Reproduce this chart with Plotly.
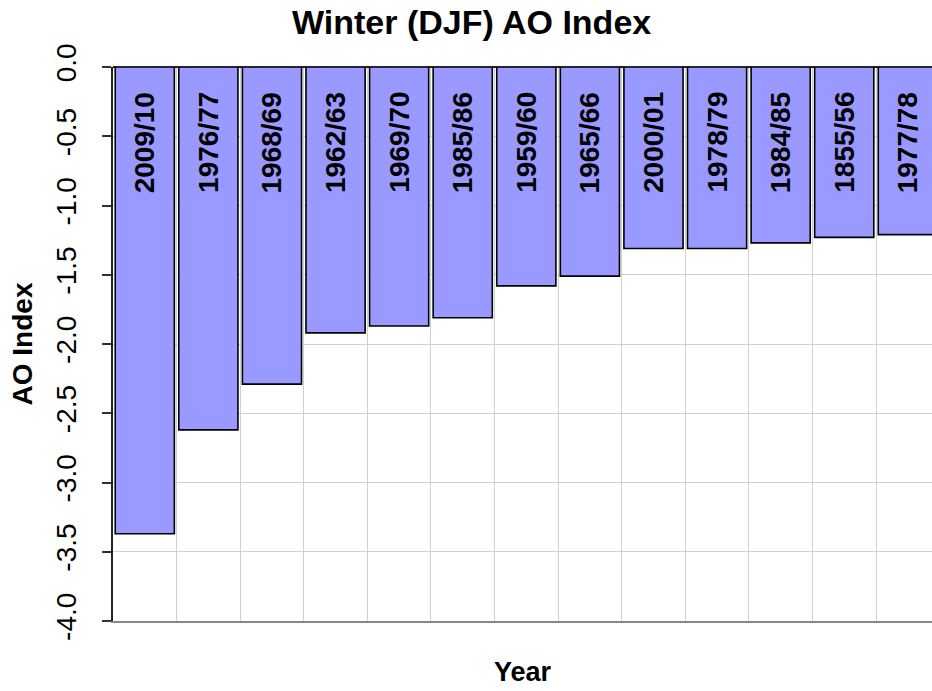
import plotly.graph_objects as go

winters = ["2009/10", "1976/77", "1968/69", "1962/63", "1969/70", "1985/86", "1959/60",
           "1965/66", "2000/01", "1978/79", "1984/85", "1855/56", "1977/78"]
ao_index = [-3.37, -2.62, -2.29, -1.92, -1.87, -1.81, -1.58,
            -1.51, -1.31, -1.31, -1.27, -1.23, -1.21]
y_ticks = [0.0, -0.5, -1.0, -1.5, -2.0, -2.5, -3.0, -3.5, -4.0]

FONT = "Liberation Sans, Arial, sans-serif"

fig = go.Figure()
fig.add_trace(go.Bar(
    x=winters, y=ao_index,
    marker=dict(color="#9999FF", line=dict(color="black", width=1.6)),
    hoverinfo="x+y",
))

for w in winters:
    fig.add_annotation(
        x=w, y=0, xref="x", yref="y",
        text="<b>%s</b>" % w, textangle=-90,
        showarrow=False, xanchor="center", yanchor="top", yshift=-23,
        font=dict(family=FONT, size=28, color="black"),
    )

fig.update_layout(
    width=932, height=691,
    paper_bgcolor="white", plot_bgcolor="white",
    margin=dict(l=113, r=0, t=67, b=70),
    bargap=0.07,
    showlegend=False,
    title=dict(text="<b>Winter (DJF) AO Index</b>", x=0.506, xanchor="center",
               y=0.968, yanchor="middle",
               font=dict(family=FONT, size=34, color="black")),
    font=dict(family=FONT, color="black"),
)

fig.update_xaxes(
    type="category",
    range=[-0.5, 12.38],
    showticklabels=False,
    tickson="boundaries",
    ticks="",
    showgrid=True, gridcolor="#d0d0d0", gridwidth=1,
    showline=True, linecolor="#888888", linewidth=1.5,
    title=dict(text="<b>Year</b>", font=dict(family=FONT, size=27, color="black"), standoff=40),
)

fig.update_yaxes(
    range=[-4.0, 0.0],
    tickmode="array", tickvals=y_ticks,
    ticktext=["%.1f" % v for v in y_ticks],
    tickangle=-90,
    tickfont=dict(family=FONT, size=28, color="black"),
    ticks="outside", ticklen=9, tickcolor="#333333", tickwidth=1.5,
    ticklabelstandoff=15,
    showgrid=True, gridcolor="#d0d0d0", gridwidth=1,
    zeroline=True, zerolinecolor="#222222", zerolinewidth=1.5,
    showline=True, linecolor="#222222", linewidth=1.5,
    title=dict(text="<b>AO Index</b>", font=dict(family=FONT, size=28, color="black"), standoff=10),
)

fig.write_html(
    "out.html",
    config={"displayModeBar": False},
    post_script="document.body.style.margin='0';document.body.style.overflow='hidden';",
)
